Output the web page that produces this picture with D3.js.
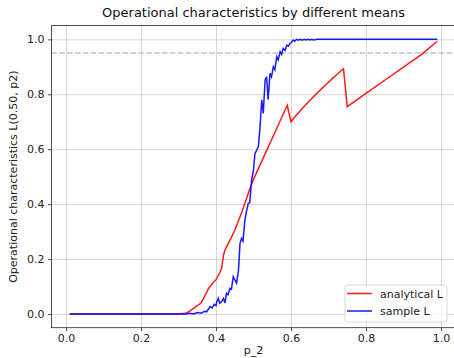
<!DOCTYPE html>
<html>
<head>
<meta charset="utf-8">
<script src="https://cdn.jsdelivr.net/npm/d3@7"></script>
<style>
  body { margin: 0; background: #fff; }
  svg { font-family: "DejaVu Sans", sans-serif; }
</style>
</head>
<body>
<div id="chart"></div>
<script>
// Operational characteristics L(0.50, p2): analytical vs sample estimate

const WD = 454, HT = 358
const margin = { left: 51.4, right: -1.6, top: 25.6, bottom: 30.3 }
const width = WD - margin.left - margin.right
const height = HT - margin.top - margin.bottom

// data
const analyticalP = [0.01, 0.30, 0.32, 0.33, 0.34, 0.35, 0.36, 0.37, 0.38, 0.39, 0.40, 0.41, 0.415, 0.42, 0.424,
  0.43, 0.44, 0.45, 0.46, 0.47, 0.48, 0.49, 0.50, 0.51, 0.52, 0.53, 0.54, 0.55, 0.56, 0.57, 0.58, 0.59,
  0.60, 0.61, 0.62, 0.63, 0.64, 0.65, 0.66, 0.67, 0.68, 0.69, 0.70, 0.71, 0.72, 0.73, 0.74,
  0.75, 0.80, 0.85, 0.90, 0.95, 0.99]
const analyticalL = [0, 0, 0.003, 0.01, 0.02, 0.03, 0.04, 0.065, 0.093, 0.11, 0.125, 0.15, 0.166, 0.215, 0.233,
  0.25, 0.276, 0.305, 0.34, 0.375, 0.415, 0.455, 0.49, 0.52, 0.55, 0.58, 0.61, 0.64, 0.67, 0.70, 0.73, 0.76,
  0.70, 0.717, 0.733, 0.748, 0.763, 0.777, 0.791, 0.805, 0.818, 0.831, 0.844, 0.857, 0.869, 0.881, 0.893,
  0.755, 0.803, 0.851, 0.899, 0.947, 0.993]

const sampleP = [0.01, 0.32, 0.33, 0.34, 0.35, 0.36, 0.37, 0.375, 0.38, 0.384, 0.39, 0.395, 0.40, 0.402, 0.406,
  0.41, 0.415, 0.42, 0.424, 0.428, 0.432, 0.437, 0.441, 0.446, 0.45, 0.455, 0.46, 0.464, 0.468, 0.472, 0.477,
  0.482, 0.486, 0.49, 0.495, 0.50, 0.504, 0.508, 0.513, 0.517, 0.522, 0.526, 0.531, 0.535, 0.539, 0.544,
  0.548, 0.553, 0.557, 0.562, 0.566, 0.571, 0.575, 0.579, 0.584, 0.589, 0.593, 0.597, 0.602, 0.606, 0.61,
  0.615, 0.62, 0.625, 0.63, 0.635, 0.64, 0.645, 0.65, 0.655, 0.66, 0.67, 0.99]
const sampleL = [0, 0, 0.003, 0, 0.005, 0.003, 0.01, 0.008, 0.018, 0.027, 0.022, 0.035, 0.03, 0.045, 0.057,
  0.039, 0.045, 0.057, 0.04, 0.075, 0.07, 0.093, 0.09, 0.136, 0.125, 0.112, 0.16, 0.257, 0.275, 0.265, 0.342,
  0.378, 0.403, 0.405, 0.488, 0.524, 0.585, 0.595, 0.61, 0.673, 0.78, 0.73, 0.852, 0.864, 0.78, 0.876,
  0.864, 0.9, 0.89, 0.937, 0.925, 0.955, 0.945, 0.967, 0.96, 0.979, 0.975, 0.985, 0.99, 0.997, 0.993,
  1.0, 0.997, 1.0, 0.997, 1.0, 0.998, 1.0, 0.998, 1.0, 0.998, 1.0, 1.0]

const xTicks = [0.0, 0.2, 0.4, 0.6, 0.8, 1.0]
const yTicks = [0.0, 0.2, 0.4, 0.6, 0.8, 1.0]
const refLevel = 0.95

var svg = d3.select("#chart")
  .append("svg")
    .attr("width", WD)
    .attr("height", HT)

var g = svg.append("g")
  .attr("transform", "translate(" + margin.left + "," + margin.top + ")")

const xs = d3.scaleLinear().domain([-0.039, 1.039]).range([0, width])
const ys = d3.scaleLinear().domain([-0.05, 1.05]).range([height, 0])

// grid
var gridX = g.append("g")
  .attr("transform", "translate(0," + height + ")")
  .call(d3.axisBottom(xs).tickValues(xTicks).tickSize(-height).tickFormat(""))
var gridY = g.append("g")
  .call(d3.axisLeft(ys).tickValues(yTicks).tickSize(-width).tickFormat(""))
;[gridX, gridY].forEach(gr => {
  gr.select(".domain").remove()
  gr.selectAll("line").attr("stroke", "#cbcbcb").attr("stroke-width", 0.8)
})

// reference line at 0.95
g.append("line")
  .attr("x1", 0).attr("x2", width)
  .attr("y1", ys(refLevel)).attr("y2", ys(refLevel))
  .attr("stroke", "#aec7e8")
  .attr("stroke-width", 1.5)
  .attr("stroke-dasharray", "5.5,2.4")

const line = d3.line().x(d => xs(d[0])).y(d => ys(d[1]))

g.append("path")
  .datum(analyticalP.map((p, i) => [p, analyticalL[i]]))
  .attr("d", line)
  .attr("fill", "none")
  .attr("stroke", "red")
  .attr("stroke-opacity", 0.9)
  .attr("stroke-width", 1.5)

g.append("path")
  .datum(sampleP.map((p, i) => [p, sampleL[i]]))
  .attr("d", line)
  .attr("fill", "none")
  .attr("stroke", "blue")
  .attr("stroke-opacity", 0.9)
  .attr("stroke-width", 1.5)

// axes
var xAxis = g.append("g")
  .attr("transform", "translate(0," + height + ")")
  .call(d3.axisBottom(xs).tickValues(xTicks).tickFormat(d3.format(".1f")).tickSize(3.5).tickPadding(3.5).tickSizeOuter(0))
var yAxis = g.append("g")
  .call(d3.axisLeft(ys).tickValues(yTicks).tickFormat(d3.format(".1f")).tickSize(3.5).tickPadding(3.5).tickSizeOuter(0))
;[xAxis, yAxis].forEach(ax => {
  ax.select(".domain").remove()
  ax.selectAll(".tick text").attr("font-size", "11px").attr("fill", "#222").attr("font-family", "DejaVu Sans")
  ax.selectAll(".tick line").attr("stroke", "#222").attr("stroke-width", 0.8)
})

// frame
g.append("rect")
  .attr("width", width).attr("height", height)
  .attr("fill", "none")
  .attr("stroke", "#222")
  .attr("stroke-width", 0.8)

// title and labels
svg.append("text")
  .attr("x", margin.left + width / 2)
  .attr("y", 17)
  .attr("text-anchor", "middle")
  .attr("font-size", "13px")
  .attr("fill", "#111")
  .text("Operational characteristics by different means")

svg.append("text")
  .attr("x", margin.left + width / 2)
  .attr("y", 354)
  .attr("text-anchor", "middle")
  .attr("font-size", "11px")
  .attr("fill", "#222")
  .text("p_2")

svg.append("text")
  .attr("transform", "translate(17," + (margin.top + height / 2) + ") rotate(-90)")
  .attr("text-anchor", "middle")
  .attr("font-size", "11px")
  .attr("fill", "#222")
  .text("Operational characteristics L(0.50, p2)")

// legend
var legend = g.append("g")
  .attr("transform", "translate(" + (345 - margin.left) + "," + (285 - margin.top) + ")")
legend.append("rect")
  .attr("width", 102).attr("height", 37)
  .attr("rx", 2.5)
  .attr("fill", "white").attr("fill-opacity", 0.8)
  .attr("stroke", "#cccccc").attr("stroke-width", 0.8)
const legendItems = [["analytical L", "red"], ["sample L", "blue"]]
legendItems.forEach((item, i) => {
  legend.append("line")
    .attr("x1", 2).attr("x2", 27)
    .attr("y1", 8.5 + i * 17.5).attr("y2", 8.5 + i * 17.5)
    .attr("stroke", item[1]).attr("stroke-width", 1.5).attr("stroke-opacity", 0.9)
  legend.append("text")
    .attr("x", 35).attr("y", 12.5 + i * 17.5)
    .attr("font-size", "11px")
    .attr("fill", "#222")
    .text(item[0])
})
</script>
</body>
</html>
